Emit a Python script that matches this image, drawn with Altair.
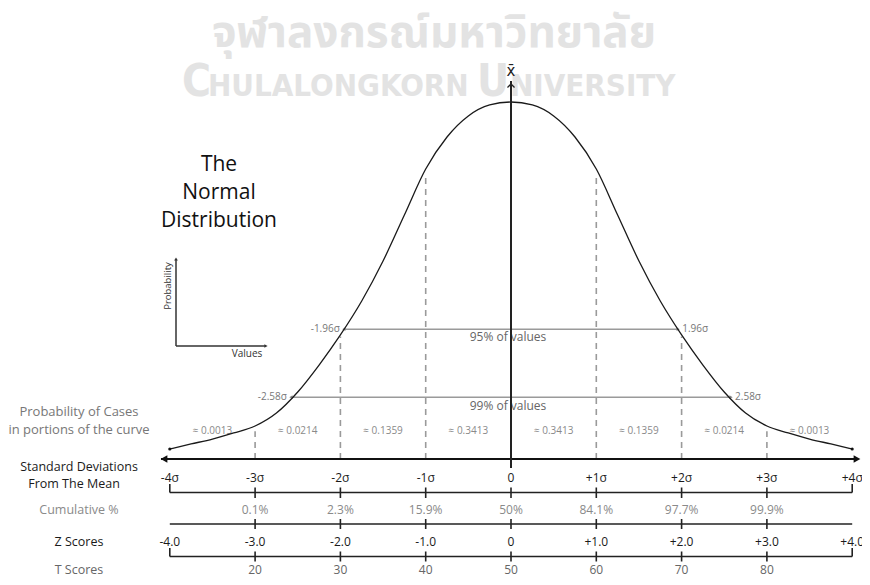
import altair as alt
import pandas as pd

# ---------------- data ----------------
curve_z = [-4.0, -3.75, -3.5, -3.25, -3.0, -2.75, -2.5, -2.25, -2.0, -1.75, -1.5, -1.25, -1.0, -0.75, -0.5, -0.25, 0.0,
           0.25, 0.5, 0.75, 1.0, 1.25, 1.5, 1.75, 2.0, 2.25, 2.5, 2.75, 3.0, 3.25, 3.5, 3.75, 4.0]
curve_d = [0.0112, 0.0168, 0.0223, 0.0291, 0.0369, 0.0514, 0.0749, 0.1050, 0.1386, 0.1765, 0.2212, 0.2726, 0.3240,
           0.3598, 0.3833, 0.3956, 0.3989,
           0.3956, 0.3833, 0.3598, 0.3240, 0.2726, 0.2212, 0.1765, 0.1386, 0.1050, 0.0749, 0.0514, 0.0369, 0.0291,
           0.0223, 0.0168, 0.0112]

sd_z = [-4, -3, -2, -1, 0, 1, 2, 3, 4]
sd_labels = ["-4σ", "-3σ", "-2σ", "-1σ", "0", "+1σ", "+2σ", "+3σ", "+4σ"]
cum_z = [-3, -2, -1, 0, 1, 2, 3]
cum_labels = ["0.1%", "2.3%", "15.9%", "50%", "84.1%", "97.7%", "99.9%"]
zs_labels = ["-4.0", "-3.0", "-2.0", "-1.0", "0", "+1.0", "+2.0", "+3.0", "+4.0"]
t_z = [-3, -2, -1, 0, 1, 2, 3]
t_labels = ["20", "30", "40", "50", "60", "70", "80"]
band_z = [-3.5, -2.5, -1.5, -0.5, 0.5, 1.5, 2.5, 3.5]
band_labels = ["≈ 0.0013", "≈ 0.0214", "≈ 0.1359", "≈ 0.3413", "≈ 0.3413", "≈ 0.1359", "≈ 0.0214", "≈ 0.0013"]
dash_z = [-3, -2, -1, 1, 2, 3]
dash_top = [0.031, 0.137, 0.318, 0.318, 0.137, 0.031]
ci_labels = ["95% of values", "99% of values"]
ci_z = [1.96, 2.58]
ci_d = [0.145, 0.069]
ci_end_labels = ["1.96σ", "2.58σ"]
row_labels = ["Probability of Cases", "in portions of the curve", "Standard Deviations", "From The Mean",
              "Cumulative %", "Z Scores", "T Scores"]
title_lines = ["The", "Normal", "Distribution"]

# ---------------- layout ----------------
W, H = 854, 569
X0, PXZ = 511.0, 85.3      # page x of the mean, pixels per sigma
A0, K = 463.0, 895.0       # page y of the main axis, pixels per density unit
SHIFT = 4.0

xs = alt.Scale(domain=[(8 - X0) / PXZ, (8 + W - X0) / PXZ], nice=False, zero=False)
ys = alt.Scale(domain=[(A0 - SHIFT - 8 - H) / K, (A0 - SHIFT - 8) / K], nice=False, zero=False)


def col(px):
    return (px - X0) / PXZ


def row(py):
    return (A0 - py) / K


def X(f="z"):
    return alt.X(f"{f}:Q", scale=xs, axis=None)


def Y(f="d"):
    return alt.Y(f"{f}:Q", scale=ys, axis=None)


FONT = "Open Sans"
layers = []


def text_layer(zs, ds, labels, **kw):
    df = pd.DataFrame({"z": zs, "d": ds, "t": labels})
    kw.setdefault("baseline", "middle")
    kw.setdefault("font", FONT)
    return alt.Chart(df).mark_text(**kw).encode(x=X(), y=Y(), text="t:N")


def seg_layer(z1, z2, d1, d2, **kw):
    df = pd.DataFrame({"z": z1, "z2": z2, "d": d1, "d2": d2})
    return alt.Chart(df).mark_rule(**kw).encode(x=X(), x2="z2:Q", y=Y(), y2="d2:Q")


def pt_layer(zs, ds, **kw):
    df = pd.DataFrame({"z": zs, "d": ds})
    return alt.Chart(df).mark_point(**kw).encode(x=X(), y=Y())


# watermark
layers.append(text_layer([col(434)], [row(38)], ["จุฬาลงกรณ์มหาวิทยาลัย"], fontSize=44, fontWeight="bold",
                         color="#e3e3e3", font="Noto Sans Thai, Loma, Garuda, Noto Sans, sans-serif"))
WMF = "Liberation Sans Narrow, DejaVu Sans Condensed, Roboto, sans-serif"
layers.append(text_layer([col(182), col(477)], [row(100), row(100)], ["C", "U"], fontSize=44, fontWeight="bold",
                         color="#e3e3e3", font=WMF, align="left", baseline="alphabetic"))
layers.append(text_layer([col(208), col(510)], [row(100), row(100)], ["HULALONGKORN", "NIVERSITY"], fontSize=31,
                         fontWeight="bold", color="#e3e3e3", font=WMF, align="left", baseline="alphabetic"))

# dashed sigma lines
layers.append(seg_layer(dash_z, dash_z, [0] * len(dash_z), dash_top, color="#9a9a9a", strokeWidth=1.6,
                        strokeDash=[6, 5]))

# confidence lines
layers.append(seg_layer([-v for v in ci_z], ci_z, ci_d, ci_d, color="#9a9a9a", strokeWidth=1.6))
layers.append(pt_layer([-v for v in ci_z], ci_d, shape="triangle-left", size=14, filled=True, color="#888",
                       opacity=1))
layers.append(pt_layer(ci_z, ci_d, shape="triangle-right", size=14, filled=True, color="#888", opacity=1))
layers.append(text_layer([-v for v in ci_z], ci_d, ["-" + s for s in ci_end_labels], fontSize=10, color="#777",
                         align="right", dx=-4))
layers.append(text_layer(ci_z, ci_d, ci_end_labels, fontSize=10, color="#777", align="left", dx=4))
layers.append(text_layer([0, 0], [row(341), row(409.5)], ci_labels, fontSize=12, color="#666", align="center",
                         dx=-3))

# band probabilities
layers.append(text_layer(band_z, [row(435)] * len(band_z), band_labels, fontSize=10, color="#8a8a8a"))

# curve
cdf = pd.DataFrame({"z": curve_z, "d": curve_d})
layers.append(alt.Chart(cdf).mark_line(interpolate="monotone", color="#1a1a1a", strokeWidth=1.3).encode(
    x=X(), y=Y()))
layers.append(pt_layer([-4, 4], [0.0112, 0.0112], shape="circle", size=10, filled=True, color="#111", opacity=1))

# main axis with arrows
layers.append(seg_layer([col(161)], [col(858)], [0], [0], color="#111", strokeWidth=2.2))
layers.append(pt_layer([col(164)], [0], shape="triangle-left", size=60, filled=True, color="#111", opacity=1))
layers.append(pt_layer([col(857)], [0], shape="triangle-right", size=60, filled=True, color="#111", opacity=1))

# mean line
layers.append(seg_layer([0], [0], [row(472)], [row(85)], color="#222", strokeWidth=2))
layers.append(pt_layer([0], [row(88)], shape="M-1,1L0,0L1,1", size=50, filled=False, color="#222",
                       strokeWidth=1.3, opacity=1))
layers.append(text_layer([0], [row(75)], ["x̄"], fontSize=15, color="#222", font="DejaVu Sans"))

# row lines and ticks
inner = [-3, -2, -1, 0, 1, 2, 3]
for ly, end_ticks, t1, t2 in [(496.5, True, 491.5, 502), (528, False, 523, 533), (560.5, True, 555.5, 565.5)]:
    layers.append(seg_layer([-4], [4], [row(ly)], [row(ly)], color="#222", strokeWidth=1.6))
    layers.append(seg_layer(inner, inner, [row(t1)] * 7, [row(t2)] * 7, color="#222", strokeWidth=1.6))
    if end_ticks:
        layers.append(seg_layer([-4, 4], [-4, 4], [row(ly - 8.5)] * 2, [row(ly)] * 2, color="#222",
                                strokeWidth=1.6))

# row labels
layers.append(text_layer(sd_z, [row(482)] * 9, sd_labels, fontSize=12, color="#1a1a1a"))
layers.append(text_layer(cum_z, [row(514)] * 7, cum_labels, fontSize=12, color="#8a8a8a"))
layers.append(text_layer(sd_z, [row(546)] * 9, zs_labels, fontSize=12, color="#1a1a1a"))
layers.append(text_layer(t_z, [row(574)] * 7, t_labels, fontSize=12, color="#666"))

# left labels
lx = [col(79), col(79), col(79), col(74), col(79), col(79), col(79)]
ly = [row(416), row(434), row(471), row(488), row(514), row(546), row(574)]
lc = ["#777", "#777", "#1a1a1a", "#1a1a1a", "#8a8a8a", "#1a1a1a", "#666"]
ls = [13, 13, 12.5, 12.5, 12.5, 12.5, 12.5]
for i in range(len(row_labels)):
    layers.append(text_layer([lx[i]], [ly[i]], [row_labels[i]], fontSize=ls[i], color=lc[i]))

# title
layers.append(text_layer([col(219)] * 3, [row(169), row(197), row(225)], title_lines, fontSize=21, color="#111"))

# mini axes
layers.append(seg_layer([col(176)], [col(176)], [row(350)], [row(263)], color="#333", strokeWidth=1.5))
layers.append(seg_layer([col(176)], [col(266)], [row(350)], [row(350)], color="#333", strokeWidth=1.5))
layers.append(pt_layer([col(176)], [row(263)], shape="triangle-up", size=14, filled=True, color="#333", opacity=1))
layers.append(pt_layer([col(266)], [row(350)], shape="triangle-right", size=14, filled=True, color="#333",
                       opacity=1))
layers.append(text_layer([col(168)], [row(290)], ["Probability"], fontSize=9.5, color="#333", angle=270))
layers.append(text_layer([col(247)], [row(358)], ["Values"], fontSize=10, color="#333"))

chart = alt.layer(*layers).properties(width=W, height=H, padding=0, autosize="none",
                                      background="white").configure_view(stroke=None)
chart.save("out.html", embed_options={"renderer": "svg", "actions": False})
